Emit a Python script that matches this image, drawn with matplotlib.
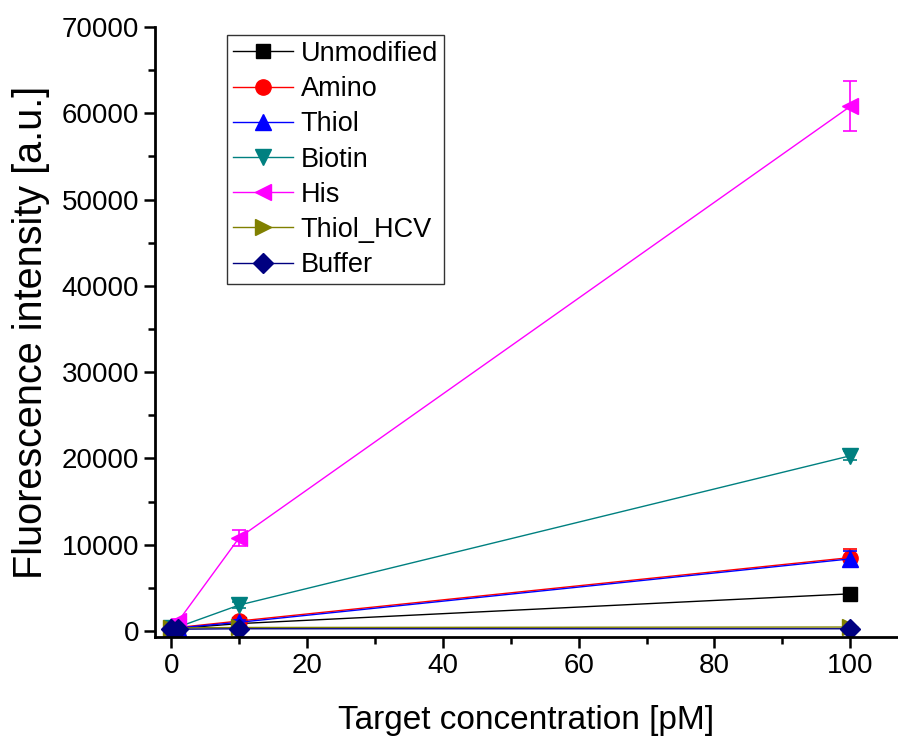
import numpy as np
import matplotlib
matplotlib.use('Agg')
import matplotlib.pyplot as plt
from matplotlib.ticker import MultipleLocator

plt.rcParams['font.family'] = ['Liberation Sans', 'DejaVu Sans']

# 數據
conc = [0, 1, 10, 100]
names = ['Unmodified', 'Amino', 'Thiol', 'Biotin', 'His', 'Thiol_HCV', 'Buffer']
unmodified = [200, 300, 850, 4300]
amino = [250, 400, 1150, 8500]
thiol = [250, 350, 1000, 8350]
biotin = [300, 450, 3000, 20300]
his = [300, 1100, 10800, 60800]
thiol_hcv = [350, 350, 400, 450]
buffer = [200, 200, 250, 250]

unmodified_err = [50, 50, 100, 300]
amino_err = [50, 80, 300, 1000]
thiol_err = [50, 80, 300, 900]
biotin_err = [50, 80, 400, 500]
his_err = [50, 300, 900, 2900]
thiol_hcv_err = [50, 50, 80, 100]
buffer_err = [30, 30, 50, 50]

series = [unmodified, amino, thiol, biotin, his, thiol_hcv, buffer]
errors = [unmodified_err, amino_err, thiol_err, biotin_err, his_err, thiol_hcv_err, buffer_err]
colors = ['#000000', '#ff0000', '#0000ff', '#008080', '#ff00ff', '#808000', '#000080']
markers = ['s', 'o', '^', 'v', '<', '>', 'D']
msizes = [10, 11, 11, 11, 11, 11, 10]

fig = plt.figure(figsize=(8.98, 7.38), dpi=100)
ax = fig.add_axes([0.1726, 0.1369, 0.8264, 0.8265])

for i in range(len(names)):
    ax.errorbar(conc, series[i], yerr=errors[i], fmt='none', ecolor=colors[i],
                elinewidth=1.2, capsize=5, capthick=1.2)
    ax.plot(conc, series[i], color=colors[i], marker=markers[i],
            markersize=msizes[i], linewidth=1, label=names[i])

ax.set_xlim(-2.4, 106.9)
ax.set_ylim(-700, 70000)
ax.xaxis.set_major_locator(MultipleLocator(20))
ax.xaxis.set_minor_locator(MultipleLocator(10))
ax.yaxis.set_major_locator(MultipleLocator(10000))
ax.yaxis.set_minor_locator(MultipleLocator(5000))

ax.spines['top'].set_visible(False)
ax.spines['right'].set_visible(False)
ax.spines['left'].set_linewidth(2)
ax.spines['bottom'].set_linewidth(2)
ax.tick_params(which='major', direction='out', length=8, width=1.8, labelsize=20)
ax.tick_params(which='minor', direction='out', length=5, width=1.8)

ax.set_xlabel('Target concentration [pM]', fontsize=24, labelpad=19)
ax.set_ylabel('Fluorescence intensity [a.u.]', fontsize=28.5, labelpad=8)

leg = ax.legend(loc='upper left', bbox_to_anchor=(0.097, 0.987), fontsize=19.5,
                frameon=True, fancybox=False, handlelength=2.2, borderpad=0.22,
                labelspacing=0.34, handletextpad=0.3, borderaxespad=0)
leg.get_frame().set_edgecolor('black')
leg.get_frame().set_linewidth(1)

plt.savefig('out.png', dpi=100)
